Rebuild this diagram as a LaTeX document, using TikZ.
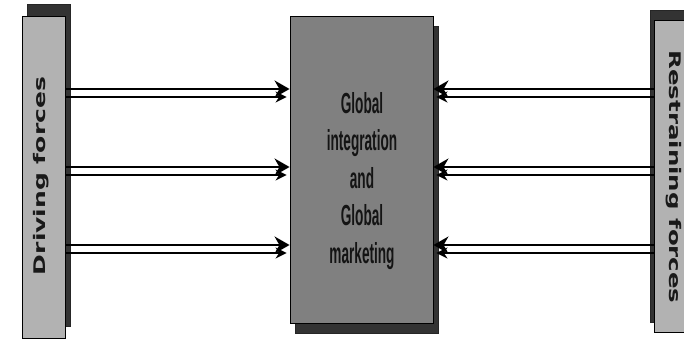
\documentclass[tikz,border=0pt]{standalone}
\usepackage{fontspec}
\usepackage{graphicx}
\usetikzlibrary{arrows.meta,shadows}
\newfontfamily\sidefont{DejaVu Sans}
\newfontfamily\narrowfont[FakeStretch=0.47]{Liberation Sans}

\tikzset{
  forcebox/.style={draw=black, line width=0.9pt, fill=black!30, inner sep=0pt},
  centrebox/.style={draw=black, line width=0.9pt, fill=black!50, inner sep=0pt},
  darkshadow/.style={fill=black!80, draw=black!85, opacity=1},
  sidelabel/.style={font=\sidefont\bfseries\fontsize{16}{16}\selectfont, text=black!90},
  mainlabel/.style={font=\narrowfont\bfseries\fontsize{29}{37.5}\selectfont, align=center, text=black!92},
  upperline/.style={line width=2pt, -{Stealth[length=15pt,width=17pt]}},
  lowerline/.style={line width=1.4pt, -{Stealth[length=11pt,width=11pt]}}
}

\begin{document}
\begin{tikzpicture}[x=1pt, y=-1pt]
  \useasboundingbox (0,0) rectangle (684,341);

  % three boxes, each with its dark offset shadow
  \node[forcebox, minimum width=43pt, minimum height=322pt,
        drop shadow={shadow xshift=5pt, shadow yshift=12pt, darkshadow}]
        (drive) at (43.5,177) {};
  \node[centrebox, minimum width=143pt, minimum height=307pt,
        drop shadow={shadow xshift=5pt, shadow yshift=-10pt, darkshadow}]
        (global) at (361.5,169.5) {};
  \node[forcebox, minimum width=46pt, minimum height=312pt,
        drop shadow={shadow xshift=-4pt, shadow yshift=10pt, darkshadow}]
        (restrain) at (677,176) {};

  % labels
  \node[sidelabel, rotate=90] (drivetext) at (41,176)
    {\resizebox{198pt}{\height}{Driving forces}};
  \node[sidelabel, rotate=-90] (restraintext) at (674,177)
    {\resizebox{253pt}{\height}{Restraining forces}};
  % the base anchor of a multi-line node sits on its last line
  \node[mainlabel, anchor=base] (globaltext) at (362,263)
    {Global\\integration\\and\\Global\\marketing};

  % levels of the force pairs
  \foreach \lv/\y in {a/93, b/171, c/249} {
    \coordinate (up\lv) at (0,\y-4);
    \coordinate (lo\lv) at (0,\y+4);
    % driving forces push towards the centre
    \draw[upperline] (drive.east |- up\lv) -- (global.west |- up\lv);
    \draw[lowerline] (drive.east |- lo\lv) -- ([xshift=-3pt]global.west |- lo\lv);
    % restraining forces push back
    \draw[upperline] (restrain.west |- up\lv) -- (global.east |- up\lv);
    \draw[lowerline] (restrain.west |- lo\lv) -- ([xshift=3pt]global.east |- lo\lv);
  }
\end{tikzpicture}
\end{document}
